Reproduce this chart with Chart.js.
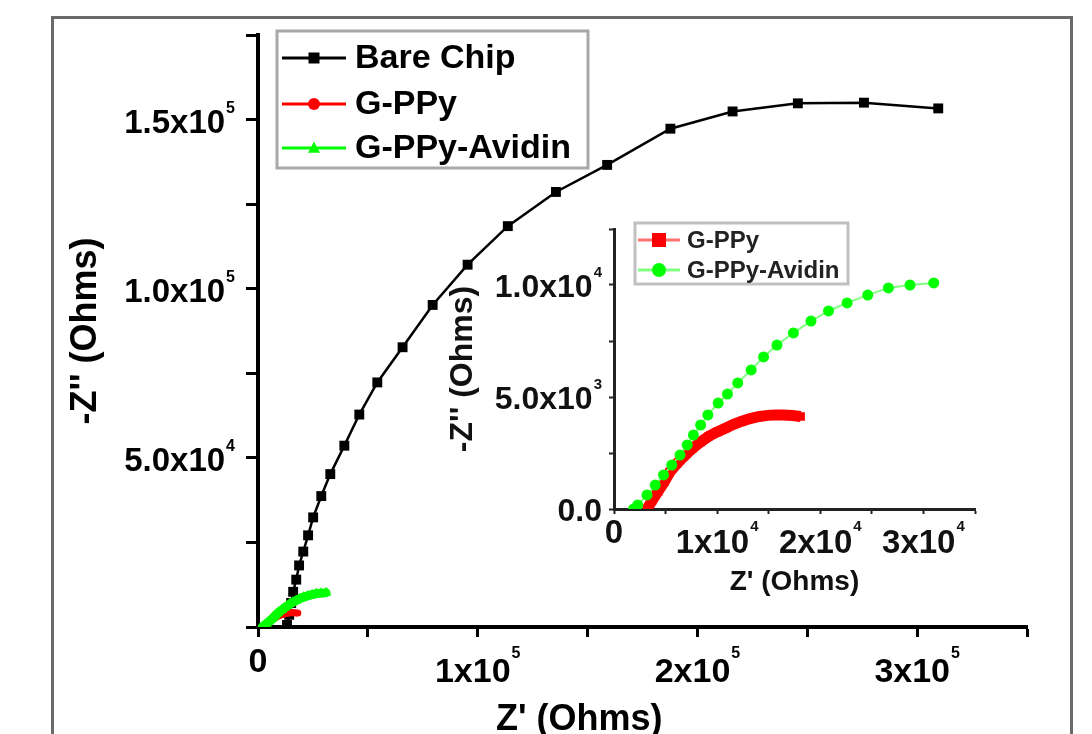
<!DOCTYPE html>
<html>
<head>
<meta charset="utf-8">
<script src="https://cdn.jsdelivr.net/npm/chart.js@4/dist/chart.umd.min.js"></script>
<style>
  html, body { margin: 0; padding: 0; background: #fff; }
  body { width: 1092px; height: 734px; position: relative; overflow: hidden; font-family: "Liberation Sans", Arial, sans-serif; }
  #frame { position: absolute; left: 51px; top: 16px; width: 1016px; height: 740px; border: 3px solid #6a6a6a; }
  #main { position: absolute; left: 0; top: 0; }
  #inset { position: absolute; left: 440px; top: 215px; }
  #xtitle { position: absolute; left: 496px; top: 700px; font-weight: bold; font-size: 36px; line-height: 36px; color: #000; white-space: nowrap; }
</style>
</head>
<body>
<div id="frame"></div>
<canvas id="main" width="1092" height="734"></canvas>
<canvas id="inset" width="545" height="390"></canvas>
<div id="xtitle">Z' (Ohms)</div>
<script>
// Series (Z' , -Z'' in Ohms)
const bareChipX = [13200, 14200, 15100, 16000, 17400, 18700, 20600, 22800, 25100, 28800, 32900, 39300, 46100, 54300, 65800, 79500, 95400, 113700, 135600, 158900, 187700, 216000, 245700, 275800, 309600];
const bareChipY = [600, 3600, 7100, 10400, 14000, 18200, 22300, 27100, 32400, 38700, 45200, 53600, 62800, 72300, 82700, 95200, 107100, 118500, 128600, 136600, 147300, 152400, 154800, 155000, 153300];

const gppyX = [3200, 3700, 4300, 4900, 5400, 6100, 6800, 7600, 8400, 9200, 10000, 10800, 11600, 12400, 13200, 14100, 14900, 15600, 16400, 17300, 18100];
const gppyY = [0, 380, 800, 1230, 1640, 2020, 2360, 2700, 2990, 3250, 3440, 3610, 3780, 3920, 4040, 4130, 4180, 4200, 4200, 4170, 4130];

const avidinX = [1900, 2300, 3200, 4000, 4800, 5600, 6400, 7100, 7700, 8400, 9100, 10100, 11000, 12000, 13300, 14500, 15800, 17400, 19100, 20800, 22600, 24600, 26600, 28700, 31000];
const avidinY = [0, 180, 630, 1070, 1520, 1960, 2410, 2860, 3300, 3750, 4200, 4730, 5130, 5630, 6210, 6790, 7320, 7860, 8390, 8840, 9200, 9550, 9870, 10000, 10090];

// tick labels (mantissa part + power of ten)
const mainXTicks = [0, 100000, 200000, 300000];
const mainXLabels = ['0', '1x10', '2x10', '3x10'];
const mainXPowers = ['', '5', '5', '5'];
const mainYTicks = [50000, 100000, 150000];
const mainYLabels = ['5.0x10', '1.0x10', '1.5x10'];
const mainYPowers = ['4', '5', '5'];
const insetXTicks = [0, 10000, 20000, 30000];
const insetXLabels = ['0', '1x10', '2x10', '3x10'];
const insetXPowers = ['', '4', '4', '4'];
const insetYTicks = [0, 5000, 10000];
const insetYLabels = ['0.0', '5.0x10', '1.0x10'];
const insetYPowers = ['', '3', '4'];

const FONT = '"Liberation Sans", Arial, sans-serif';

function points(xs, ys) {
    return xs.map((x, i) => ({ x: x, y: ys[i] }));
}

function drawMarker(ctx, style, x, y, size, color) {
    ctx.fillStyle = color;
    ctx.beginPath();
    if (style === 'rect') {
        ctx.rect(x - size / 2, y - size / 2, size, size);
    } else if (style === 'triangle') {
        ctx.moveTo(x, y - size * 0.55);
        ctx.lineTo(x + size / 2, y + size * 0.4);
        ctx.lineTo(x - size / 2, y + size * 0.4);
        ctx.closePath();
    } else {
        ctx.arc(x, y, size / 2, 0, Math.PI * 2);
    }
    ctx.fill();
}

// legend box drawn inside the plot, entries taken from the datasets
function boxLegend(id, box) {
    return {
        id: id,
        afterDraw(chart) {
            const ctx = chart.ctx;
            ctx.save();
            ctx.fillStyle = '#fff';
            ctx.fillRect(box.x, box.y, box.w, box.h);
            ctx.strokeStyle = box.border;
            ctx.lineWidth = box.bw;
            ctx.strokeRect(box.x, box.y, box.w, box.h);
            chart.data.datasets.forEach((ds, i) => {
                const y = box.rows[i];
                ctx.strokeStyle = ds.legendColor || ds.borderColor;
                ctx.lineWidth = box.lw;
                ctx.beginPath();
                ctx.moveTo(box.l0, y);
                ctx.lineTo(box.l1, y);
                ctx.stroke();
                drawMarker(ctx, ds.pointStyle, (box.l0 + box.l1) / 2, y, box.marker[i], ds.pointBackgroundColor);
                ctx.fillStyle = box.color;
                ctx.font = box.font;
                ctx.textBaseline = 'middle';
                ctx.textAlign = 'left';
                ctx.fillText(ds.label, box.tx, y + 1);
            });
            ctx.restore();
        }
    };
}

// tick labels with raised powers of ten, placed with the scales
const supTicks = {
    id: 'supTicks',
    afterDraw(chart, args, opts) {
        const ctx = chart.ctx;
        ctx.save();
        ctx.fillStyle = opts.color;
        ctx.textAlign = 'left';
        ctx.textBaseline = 'alphabetic';
        ['x', 'y'].forEach(key => {
            const conf = opts[key];
            const scale = chart.scales[key];
            conf.values.forEach((v, i) => {
                const base = conf.base[i];
                const exp = conf.exp[i];
                ctx.font = conf.font;
                const wb = ctx.measureText(base).width;
                ctx.font = conf.expFont;
                const we = exp ? ctx.measureText(exp).width + 1 : 0;
                const p = scale.getPixelForValue(v);
                let x0, yb, ye;
                if (key === 'x') {
                    x0 = p - (wb + we) / 2;
                    yb = scale.top + (exp ? conf.baseDy : conf.plainDy);
                    ye = scale.top + conf.expDy;
                } else {
                    x0 = scale.right - conf.gap - wb - we;
                    yb = p + conf.baseDy;
                    ye = p + conf.expDy;
                }
                ctx.font = conf.font;
                ctx.fillText(base, x0, yb);
                if (exp) {
                    ctx.font = conf.expFont;
                    ctx.fillText(exp, x0 + wb + 1, ye);
                }
            });
        });
        ctx.restore();
    }
};

Chart.defaults.font.family = FONT;
Chart.defaults.color = '#000';

const noLabel = () => '';

// Main plot
new Chart(document.getElementById('main'), {
    type: 'scatter',
    data: {
        datasets: [{
            label: 'Bare Chip',
            data: points(bareChipX, bareChipY),
            showLine: true,
            borderColor: '#000',
            borderWidth: 2.5,
            pointStyle: 'rect',
            pointRadius: 7,
            pointBorderWidth: 0,
            pointBackgroundColor: '#000',
            order: 3
        }, {
            label: 'G-PPy',
            data: points(gppyX, gppyY),
            showLine: true,
            borderColor: '#ff0000',
            borderWidth: 6,
            borderCapStyle: 'round',
            pointStyle: 'circle',
            pointRadius: 3.5,
            pointBorderWidth: 0,
            pointBackgroundColor: '#ff0000',
            order: 2
        }, {
            label: 'G-PPy-Avidin',
            data: points(avidinX, avidinY),
            showLine: true,
            borderColor: '#00ff00',
            borderWidth: 9,
            borderCapStyle: 'round',
            pointStyle: 'triangle',
            pointRadius: 6,
            pointBorderWidth: 0,
            pointBackgroundColor: '#00ff00',
            order: 1
        }]
    },
    options: {
        responsive: false,
        animation: false,
        layout: { padding: { top: 35, right: 65, left: 0, bottom: 0 } },
        plugins: {
            legend: { display: false },
            tooltip: { enabled: false },
            supTicks: {
                color: '#000',
                x: { values: mainXTicks, base: mainXLabels, exp: mainXPowers, font: 'bold 34px ' + FONT, expFont: 'bold 16px ' + FONT, plainDy: 45, baseDy: 55, expDy: 31 },
                y: { values: mainYTicks, base: mainYLabels, exp: mainYPowers, font: 'bold 33px ' + FONT, expFont: 'bold 16px ' + FONT, gap: 23, baseDy: 13, expDy: -7 }
            }
        },
        scales: {
            x: {
                type: 'linear', min: 0, max: 350000,
                afterFit: s => { s.height = 107; },
                border: { display: true, color: '#000', width: 4 },
                grid: { drawOnChartArea: false, drawTicks: true, tickLength: 10, tickWidth: 3, tickColor: '#000' },
                ticks: { stepSize: 50000, autoSkip: false, maxRotation: 0, callback: noLabel }
            },
            y: {
                type: 'linear', min: 0, max: 175000,
                afterFit: s => { s.width = 258; },
                border: { display: true, color: '#000', width: 4 },
                grid: { drawOnChartArea: false, drawTicks: true, tickLength: 12, tickWidth: 3, tickColor: '#000' },
                ticks: { stepSize: 25000, autoSkip: false, callback: noLabel },
                title: {
                    display: true, text: "-Z'' (Ohms)", color: '#000',
                    font: { size: 36, weight: 'bold' },
                    padding: { top: 64, bottom: 0 }
                }
            }
        }
    },
    plugins: [supTicks, boxLegend('mainLegend', {
        x: 277, y: 31, w: 311, h: 137, border: '#a8a8a8', bw: 3,
        rows: [58, 104, 148], l0: 282, l1: 346, lw: 3, marker: [11, 12, 12],
        tx: 355, font: 'bold 34px ' + FONT, color: '#000'
    })]
});

// Inset plot
new Chart(document.getElementById('inset'), {
    type: 'scatter',
    data: {
        datasets: [{
            label: 'G-PPy',
            data: points(gppyX, gppyY),
            showLine: true,
            borderColor: '#ff0000',
            legendColor: '#ff7070',
            borderWidth: 11,
            pointStyle: 'rect',
            pointRadius: 6,
            pointBorderWidth: 0,
            pointBackgroundColor: '#ff0000',
            order: 2
        }, {
            label: 'G-PPy-Avidin',
            data: points(avidinX, avidinY),
            showLine: true,
            borderColor: '#80ff80',
            borderWidth: 2,
            pointStyle: 'circle',
            pointRadius: 5.5,
            pointBorderWidth: 0,
            pointBackgroundColor: '#00ff00',
            order: 1
        }]
    },
    options: {
        responsive: false,
        animation: false,
        layout: { padding: { top: 14, right: 10, left: 0, bottom: 0 } },
        plugins: {
            legend: { display: false },
            tooltip: { enabled: false },
            supTicks: {
                color: '#111',
                x: { values: insetXTicks, base: insetXLabels, exp: insetXPowers, font: 'bold 33px ' + FONT, expFont: 'bold 15px ' + FONT, plainDy: 34, baseDy: 44, expDy: 22 },
                y: { values: insetYTicks, base: insetYLabels, exp: insetYPowers, font: 'bold 32px ' + FONT, expFont: 'bold 15px ' + FONT, gap: 12, baseDy: 12, expDy: -8 }
            }
        },
        scales: {
            x: {
                type: 'linear', min: 0, max: 35000,
                afterFit: s => { s.height = 96; },
                border: { display: true, color: '#222', width: 3 },
                grid: { drawOnChartArea: false, drawTicks: true, tickLength: 5, tickWidth: 2, tickColor: '#222' },
                ticks: { stepSize: 5000, autoSkip: false, maxRotation: 0, callback: noLabel },
                title: {
                    display: true, text: "Z' (Ohms)", color: '#111',
                    font: { size: 28, weight: 'bold' },
                    padding: { top: 0, bottom: 6 }
                }
            },
            y: {
                type: 'linear', min: 0, max: 12500,
                afterFit: s => { s.width = 174; },
                border: { display: true, color: '#222', width: 3 },
                grid: { drawOnChartArea: false, drawTicks: true, tickLength: 5, tickWidth: 2, tickColor: '#222' },
                ticks: { stepSize: 2500, autoSkip: false, callback: noLabel },
                title: {
                    display: true, text: "-Z'' (Ohms)", color: '#111',
                    font: { size: 32, weight: 'bold' },
                    padding: { top: 4, bottom: 0 }
                }
            }
        }
    },
    plugins: [supTicks, boxLegend('insetLegend', {
        x: 195, y: 8, w: 213, h: 61, border: '#c0c0c0', bw: 3,
        rows: [25, 55], l0: 198, l1: 240, lw: 3, marker: [14, 14],
        tx: 247, font: 'bold 24px ' + FONT, color: '#222'
    })]
});
</script>
</body>
</html>
